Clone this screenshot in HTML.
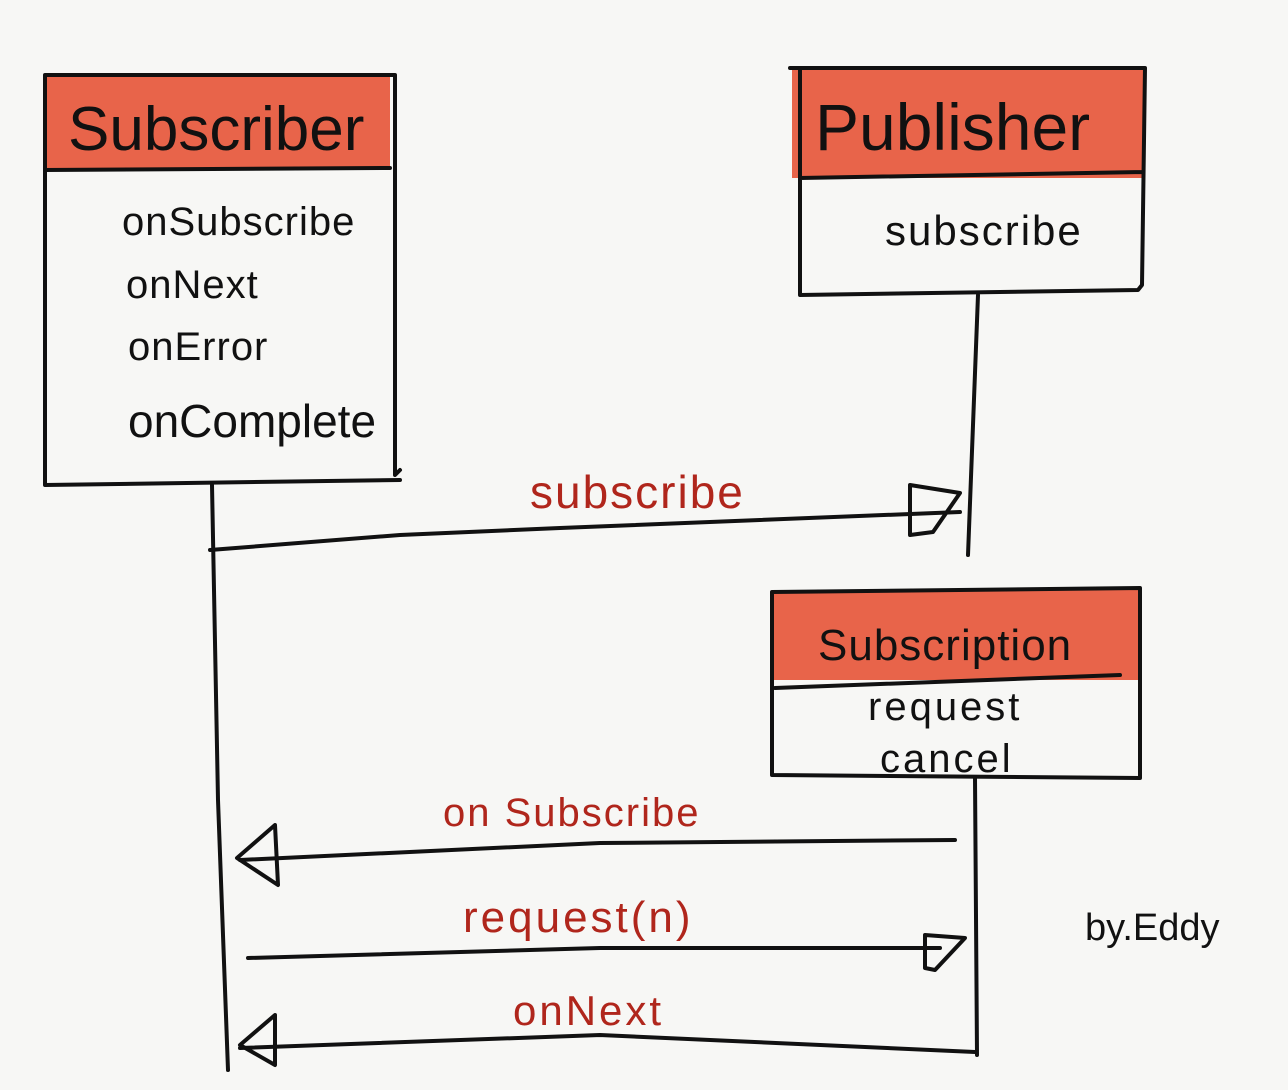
<!DOCTYPE html>
<html><head><meta charset="utf-8"><style>
html,body{margin:0;padding:0;background:#f7f7f5;}
svg{display:block}
text{font-family:"Liberation Sans",sans-serif;}
</style></head><body>
<svg width="1288" height="1090" viewBox="0 0 1288 1090" xmlns="http://www.w3.org/2000/svg">
<rect width="1288" height="1090" fill="#f7f7f5"/>
<g stroke="#111" stroke-width="4" fill="none" stroke-linecap="round" stroke-linejoin="round">
<!-- Subscriber -->
<rect x="45" y="75" width="345" height="95" fill="#e8644a" stroke="none"/>
<path d="M45 75 L395 75 L395 475 L400 470 M45 75 L45 485 L400 480 M45 170 L390 168"/>
<!-- Publisher -->
<rect x="792" y="68" width="353" height="110" fill="#e8644a" stroke="none"/>
<path d="M790 68 L1145 68 L1142 285 L1138 290 L800 295 L800 70 M800 178 L1142 172"/>
<line x1="978" y1="295" x2="968" y2="555"/>
<!-- Subscription -->
<rect x="772" y="590" width="368" height="90" fill="#e8644a" stroke="none"/>
<path d="M772 592 L1140 588 L1140 778 L772 775 L772 592 M775 688 L1120 675"/>
<line x1="975" y1="778" x2="977" y2="1055"/>
<!-- Subscriber lifeline -->
<path d="M212 485 L218 800 L228 1070"/>
<!-- subscribe arrow -->
<path d="M210 550 L400 535 L560 528 L960 512"/>
<path d="M910 485 L960 493 L933 532 L910 535 Z"/>
<!-- onSubscribe arrow -->
<path d="M955 840 L600 843 L240 860"/>
<path d="M275 825 L237 858 L278 885 Z"/>
<!-- request(n) -->
<path d="M248 958 L600 948 L940 948"/>
<path d="M925 935 L965 938 L935 970 L925 968 Z"/>
<!-- onNext -->
<path d="M975 1052 L600 1035 L240 1048"/>
<path d="M275 1015 L240 1045 L275 1065 Z"/>
</g>
<g fill="#111">
<text x="68" y="150" font-size="62">Subscriber</text>
<text x="815" y="150" font-size="66">Publisher</text>
<text x="885" y="245" font-size="42" letter-spacing="2">subscribe</text>
<text x="122" y="235" font-size="40" letter-spacing="1">onSubscribe</text>
<text x="126" y="298" font-size="40" letter-spacing="1">onNext</text>
<text x="128" y="360" font-size="40" letter-spacing="1">onError</text>
<text x="128" y="437" font-size="46">onComplete</text>
<text x="818" y="660" font-size="44" letter-spacing="1">Subscription</text>
<text x="868" y="720" font-size="40" letter-spacing="3">request</text>
<text x="880" y="772" font-size="40" letter-spacing="3">cancel</text>
<text x="1085" y="940" font-size="38">by.Eddy</text>
</g>
<g fill="#b0261c">
<text x="530" y="508" font-size="46" letter-spacing="2">subscribe</text>
<text x="443" y="826" font-size="40" letter-spacing="2">on Subscribe</text>
<text x="463" y="932" font-size="44" letter-spacing="3">request(n)</text>
<text x="513" y="1025" font-size="42" letter-spacing="3">onNext</text>
</g>
</svg>
</body></html>
